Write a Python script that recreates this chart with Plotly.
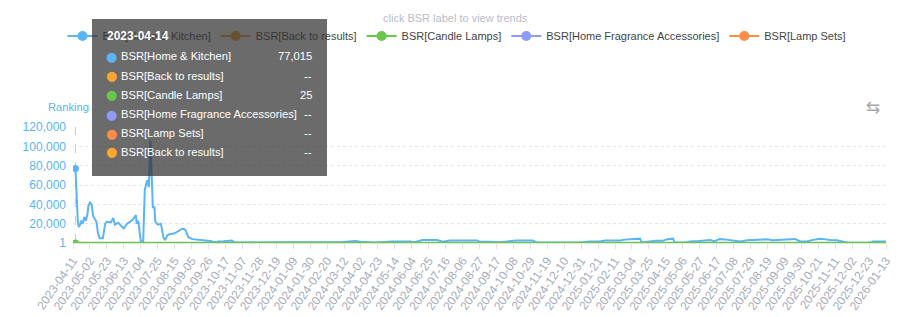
import plotly.graph_objects as go

# ---------------- data ----------------
home_kitchen_dates = [
    "2023-04-14", "2023-04-15", "2023-04-16", "2023-04-17", "2023-04-18", "2023-04-20",
    "2023-04-21", "2023-04-23", "2023-04-25", "2023-04-27", "2023-04-29", "2023-04-30",
    "2023-05-02", "2023-05-04", "2023-05-06", "2023-05-08", "2023-05-10", "2023-05-12",
    "2023-05-14", "2023-05-18", "2023-05-21", "2023-05-23", "2023-05-28", "2023-05-31",
    "2023-06-02", "2023-06-06", "2023-06-10", "2023-06-13", "2023-06-17", "2023-06-21",
    "2023-06-24", "2023-06-28", "2023-06-29", "2023-07-01", "2023-07-03", "2023-07-04",
    "2023-07-07", "2023-07-08", "2023-07-09", "2023-07-12", "2023-07-14", "2023-07-16",
    "2023-07-18", "2023-07-19", "2023-07-21", "2023-07-22", "2023-07-25", "2023-07-29",
    "2023-08-01", "2023-08-03", "2023-08-06", "2023-08-09", "2023-08-15", "2023-08-22",
    "2023-08-25", "2023-08-28", "2023-09-01", "2023-09-06", "2023-09-15", "2023-09-22",
    "2023-09-28", "2023-10-04", "2023-10-08", "2023-10-15", "2023-10-23", "2023-10-25",
    "2023-10-28", "2023-11-10", "2023-11-29", "2023-12-24", "2024-01-17", "2024-02-11",
    "2024-03-07", "2024-03-26", "2024-04-01", "2024-04-19", "2024-05-12", "2024-06-02",
    "2024-06-08", "2024-06-17", "2024-07-05", "2024-07-13", "2024-07-21", "2024-08-24",
    "2024-08-28", "2024-09-09", "2024-09-21", "2024-10-12", "2024-11-01", "2024-11-06",
    "2024-12-05", "2024-12-30", "2025-01-11", "2025-01-23", "2025-01-30", "2025-02-17",
    "2025-02-23", "2025-03-11", "2025-03-14", "2025-03-16", "2025-03-24", "2025-04-02",
    "2025-04-11", "2025-04-17", "2025-04-24", "2025-04-26", "2025-05-10", "2025-05-15",
    "2025-05-27", "2025-06-09", "2025-06-14", "2025-06-21", "2025-06-29", "2025-07-07",
    "2025-07-16", "2025-07-25", "2025-08-01", "2025-08-10", "2025-08-18", "2025-08-26",
    "2025-09-04", "2025-09-16", "2025-09-22", "2025-09-28", "2025-10-07", "2025-10-13",
    "2025-10-23", "2025-10-28", "2025-11-05", "2025-11-13", "2025-11-19", "2025-11-27",
    "2025-12-24", "2025-12-28", "2026-01-13",
]
home_kitchen_ranks = [
    77015, 52000, 34000, 22000, 16500, 19000,
    23000, 20000, 27000, 23000, 30000, 38000,
    42000, 40000, 28000, 25000, 22000, 10000,
    5000, 5000, 20000, 22000, 21500, 26000,
    19000, 21000, 17000, 15000, 20000, 22000,
    24000, 29000, 20000, 23000, 8000, 2000,
    1000, 20000, 55000, 65000, 58000, 106000,
    70000, 37000, 37000, 22000, 19000, 20000,
    6000, 3000, 8000, 9000, 10000, 13000,
    15000, 14000, 6000, 4000, 3500, 3000,
    2000, 800, 1500, 1800, 2200, 2500,
    600, 800, 1000, 700, 900, 1000,
    900, 2000, 1200, 600, 1500, 1500,
    900, 3000, 3000, 1200, 2500, 2500,
    1200, 1200, 900, 2500, 2500, 600,
    400, 600, 1500, 1500, 2500, 2500,
    3500, 3800, 4500, 600, 1500, 2200,
    2200, 4000, 4500, 500, 500, 1500,
    2000, 3000, 1800, 4000, 3500, 2500,
    1500, 2800, 3000, 4000, 3800, 2800,
    3200, 3800, 4200, 1800, 1500, 3000,
    4500, 4000, 3000, 2800, 1500, 300,
    300, 1500, 1500,
]
candle_dates = ["2023-04-14", "2024-01-01", "2025-01-01", "2026-01-13"]
candle_ranks = [25, 25, 25, 25]

series_names = ["BSR[Home & Kitchen]", "BSR[Back to results]", "BSR[Candle Lamps]",
                "BSR[Home Fragrance Accessories]", "BSR[Lamp Sets]"]
series_colors = ["#5ab4f5", "#f7a631", "#68c84a", "#8e9bf7", "#ff8c47"]

x_tick_labels = [
    "2023-04-11", "2023-05-02", "2023-05-23", "2023-06-13", "2023-07-04", "2023-07-25",
    "2023-08-15", "2023-09-05", "2023-09-26", "2023-10-17", "2023-11-07", "2023-11-28",
    "2023-12-19", "2024-01-09", "2024-01-30", "2024-02-20", "2024-03-12", "2024-04-02",
    "2024-04-23", "2024-05-14", "2024-06-04", "2024-06-25", "2024-07-16", "2024-08-06",
    "2024-08-27", "2024-09-17", "2024-10-08", "2024-10-29", "2024-11-19", "2024-12-10",
    "2024-12-31", "2025-01-21", "2025-02-11", "2025-03-04", "2025-03-25", "2025-04-15",
    "2025-05-06", "2025-05-27", "2025-06-17", "2025-07-08", "2025-07-29", "2025-08-19",
    "2025-09-09", "2025-09-30", "2025-10-21", "2025-11-11", "2025-12-02", "2025-12-23",
    "2026-01-13",
]
y_tick_values = [1, 20000, 40000, 60000, 80000, 100000, 120000]

# tooltip content (hovered day)
tooltip_date = "2023-04-14"
tooltip_rows = [
    ("BSR[Home & Kitchen]", "77,015", "#5ab4f5"),
    ("BSR[Back to results]", "--", "#f7a631"),
    ("BSR[Candle Lamps]", "25", "#68c84a"),
    ("BSR[Home Fragrance Accessories]", "--", "#8e9bf7"),
    ("BSR[Lamp Sets]", "--", "#ff8c47"),
    ("BSR[Back to results]", "--", "#ffa726"),
]

# ---------------- layout geometry ----------------
W, H = 914, 317
ML, MR, MT, MB = 73, 28, 127, 74
PW, PH = W - ML - MR, H - MT - MB
FONT = "Liberation Sans, Arial, sans-serif"


def px(xp):
    return (xp - ML) / PW


def py(yp):
    return (H - MB - yp) / PH


fig = go.Figure()

# real data traces
fig.add_trace(go.Scatter(x=home_kitchen_dates, y=home_kitchen_ranks, mode="lines",
                         line=dict(color=series_colors[0], width=2),
                         showlegend=False, hoverinfo="skip"))
fig.add_trace(go.Scatter(x=candle_dates, y=candle_ranks, mode="lines",
                         line=dict(color=series_colors[2], width=2.5),
                         showlegend=False, hoverinfo="skip"))

# highlighted hovered points
fig.add_trace(go.Scatter(x=[home_kitchen_dates[0]], y=[home_kitchen_ranks[0]], mode="markers",
                         marker=dict(color=series_colors[0], size=7),
                         showlegend=False, hoverinfo="skip"))
fig.add_trace(go.Scatter(x=[candle_dates[0]], y=[candle_ranks[0]], mode="markers",
                         marker=dict(color=series_colors[2], size=7),
                         showlegend=False, hoverinfo="skip"))

# legend entries
for name, color in zip(series_names, series_colors):
    fig.add_trace(go.Scatter(x=[None], y=[None], mode="lines+markers", name=name,
                             line=dict(color=color, width=2),
                             marker=dict(color=color, size=10)))

# axis pointer
fig.add_shape(type="line", xref="x", yref="paper", x0=home_kitchen_dates[0], x1=home_kitchen_dates[0],
              y0=0, y1=1, line=dict(color="#c8c8c8", width=1, dash="dash"), layer="below")


def ann(text, xp, yp, xanchor="center", size=11, color="#555", family=FONT, **kw):
    return dict(text=text, x=px(xp), y=py(yp), xref="paper", yref="paper",
                xanchor=xanchor, yanchor="middle", showarrow=False,
                font=dict(family=family, size=size, color=color), **kw)


annotations = [
    ann("click BSR label to view trends", 455, 18, size=11, color="#b9bdc6"),
    ann("Ranking", 91, 107, xanchor="right", size=11.2, color="#5ab4f5"),
    ann("⇆", 873, 107, size=17, color="#a8a8a8", family="DejaVu Sans"),
    # tooltip box
    dict(text=" ", x=px(92), y=py(19), xref="paper", yref="paper", xanchor="left", yanchor="top",
         showarrow=False, width=235, height=157, bgcolor="rgba(50,50,50,0.72)",
         borderpad=0, borderwidth=0),
    ann("<b>" + tooltip_date + "</b>", 105, 36, xanchor="left", size=12, color="#ffffff"),
]
row_y = [56.5, 75.5, 95, 114, 133, 151.5]
for (label, val, color), yy in zip(tooltip_rows, row_y):
    annotations.append(ann("●", 111, yy, size=13, color=color, family="DejaVu Sans"))
    annotations.append(ann(label, 119, yy, xanchor="left", size=11.2, color="#ffffff"))
    annotations.append(ann(val, 314, yy, xanchor="right", size=11.2, color="#ffffff"))

fig.update_layout(
    width=W, height=H,
    margin=dict(l=ML, r=MR, t=MT, b=MB, autoexpand=False),
    paper_bgcolor="white", plot_bgcolor="white",
    font=dict(family=FONT, size=12, color="#555"),
    legend=dict(orientation="h", x=px(457), xanchor="center", y=py(36), yanchor="middle",
                font=dict(family=FONT, size=11, color="#444"), itemwidth=30,
                bgcolor="rgba(0,0,0,0)"),
    annotations=annotations,
    xaxis=dict(type="date", range=[x_tick_labels[0], x_tick_labels[-1]],
               tickmode="array", tickvals=x_tick_labels, ticktext=x_tick_labels,
               tickangle=-55, tickfont=dict(family=FONT, size=12, color="#a5abb8"),
               showgrid=False, showline=True, linecolor="#dfe3ea", linewidth=1,
               ticks="outside", ticklen=5, tickcolor="#dfe3ea", zeroline=False),
    yaxis=dict(range=[1, 120000], tickmode="array", tickvals=y_tick_values,
               tickformat=",", tickfont=dict(family=FONT, size=12, color="#5ab4f5"),
               showgrid=True, gridcolor="#e3e6ec", griddash="dot", gridwidth=1,
               showline=False, zeroline=False, ticks="", ticklabelstandoff=6),
)

fig.write_html("out.html")
